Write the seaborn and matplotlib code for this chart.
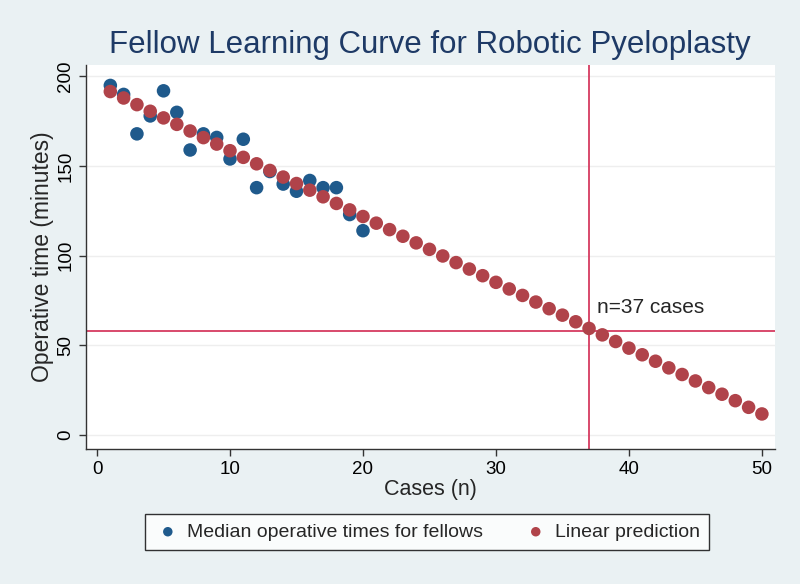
import matplotlib
matplotlib.use("Agg")
import matplotlib.pyplot as plt
import seaborn as sns
import pandas as pd

# --- Data ---
# median operative times for fellows (cases 1-20)
fellow_cases = list(range(1, 21))
fellow_times = [195, 190, 168, 178, 192, 180, 159, 168, 166, 154,
                165, 138, 147, 140, 136, 142, 138, 138, 123, 114]

# linear prediction (cases 1-50)
pred_cases = list(range(1, 51))
pred_times = [191.6, 188.0, 184.3, 180.6, 176.9, 173.3, 169.6, 165.9, 162.3, 158.6,
              154.9, 151.3, 147.6, 143.9, 140.3, 136.6, 132.9, 129.2, 125.6, 121.9,
              118.2, 114.6, 110.9, 107.2, 103.6, 99.9, 96.2, 92.6, 88.9, 85.2,
              81.5, 77.9, 74.2, 70.5, 66.9, 63.2, 59.5, 55.9, 52.2, 48.5,
              44.8, 41.2, 37.5, 33.8, 30.2, 26.5, 22.8, 19.2, 15.5, 11.8]

cutoff_case = 37
cutoff_time = 58

x_ticks = [0, 10, 20, 30, 40, 50]
y_ticks = [0, 50, 100, 150, 200]

fellows = pd.DataFrame({"case": fellow_cases, "time": fellow_times})
pred = pd.DataFrame({"case": pred_cases, "time": pred_times})

# --- Plot ---
sns.set_style("white")
plt.rcParams['font.family'] = ['Liberation Sans', 'DejaVu Sans']

bg = "#eaf1f3"
blue = "#1f5a8c"
red = "#b0434a"
line_col = "#d63a60"

fig = plt.figure(figsize=(8, 5.84), dpi=100, facecolor=bg)
ax = fig.add_axes([0.1075, 0.231, 0.8615, 0.658])
ax.set_facecolor("white")

ax.axvline(cutoff_case, color=line_col, lw=1.3, zorder=1)
ax.axhline(cutoff_time, color=line_col, lw=1.3, zorder=1)

sns.scatterplot(data=fellows, x="case", y="time", ax=ax, color=blue, s=95,
                edgecolor="none", label="Median operative times for fellows", zorder=3)
sns.scatterplot(data=pred, x="case", y="time", ax=ax, color=red, s=95,
                edgecolor="none", label="Linear prediction", zorder=4)

ax.text(cutoff_case + 0.6, 71, "n=37 cases", fontsize=15, va="center", ha="left")

ax.set_xlim(-0.83, 51.0)
ax.set_ylim(-7.8, 206.5)
ax.set_xticks(x_ticks)
ax.set_yticks(y_ticks)
ax.set_yticklabels([str(v) for v in y_ticks], rotation=90, va="center")
ax.tick_params(axis="both", labelsize=13.5, length=5, width=1, direction="out",
               bottom=True, left=True, colors="#333333", labelcolor="black")
ax.grid(axis="y", color="#eeeeee", lw=1)
ax.set_axisbelow(True)
for sp in ["top", "right"]:
    ax.spines[sp].set_visible(False)
for sp in ["left", "bottom"]:
    ax.spines[sp].set_color("#333333")
    ax.spines[sp].set_linewidth(1)

ax.set_xlabel("Cases (n)", fontsize=15.5, labelpad=1)
ax.set_ylabel("Operative time (minutes)", fontsize=16.5, labelpad=2)

fig.text(0.5375, 0.923, "Fellow Learning Curve for Robotic Pyeloplasty",
         fontsize=22.5, color="#1e3a66", ha="center", va="center")

leg = ax.legend(loc="center", bbox_to_anchor=(0.534, 0.089),
                bbox_transform=fig.transFigure, ncol=2, frameon=True,
                fancybox=False, edgecolor="black", fontsize=14,
                handletextpad=0.3, columnspacing=2.0, markerscale=0.7,
                borderpad=0.45, handlelength=1.4)
leg.get_frame().set_linewidth(1)

fig.savefig("out.png", dpi=100, facecolor=bg)
